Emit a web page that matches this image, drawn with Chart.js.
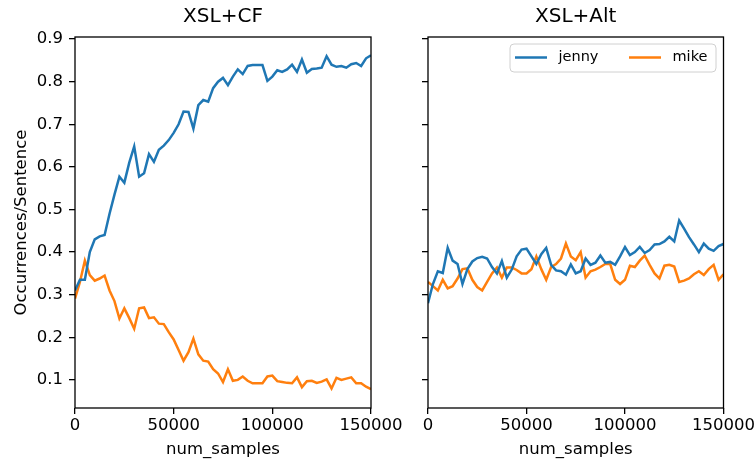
<!DOCTYPE html>
<html>
<head>
<meta charset="utf-8">
<script src="https://cdn.jsdelivr.net/npm/chart.js@4.4.1/dist/chart.umd.min.js"></script>
<style>
  html, body { margin: 0; padding: 0; background: #fff; }
  #wrap { position: relative; width: 754px; height: 461px; overflow: hidden; }
  canvas { position: absolute; top: 0; }
  #cfChart { left: 0; }
  #altChart { left: 395px; }
</style>
</head>
<body>
<div id="wrap">
  <canvas id="cfChart" width="415" height="461"></canvas>
  <canvas id="altChart" width="359" height="461"></canvas>
</div>
<script>
// Occurrences per sentence vs number of samples
const samples = [0, 2500, 5000, 7500, 10000, 12500, 15000, 17500, 20000, 22500,
  25000, 27500, 30000, 32500, 35000, 37500, 40000, 42500, 45000, 47500,
  50000, 52500, 55000, 57500, 60000, 62500, 65000, 67500, 70000, 72500,
  75000, 77500, 80000, 82500, 85000, 87500, 90000, 92500, 95000, 97500,
  100000, 102500, 105000, 107500, 110000, 112500, 115000, 117500, 120000, 122500,
  125000, 127500, 130000, 132500, 135000, 137500, 140000, 142500, 145000, 147500, 150000];

const cfJenny = [0.31, 0.335, 0.335, 0.40, 0.43, 0.437, 0.44, 0.49, 0.535, 0.577,
  0.563, 0.61, 0.648, 0.577, 0.585, 0.63, 0.612, 0.64, 0.65, 0.663,
  0.68, 0.70, 0.73, 0.729, 0.69, 0.745, 0.757, 0.753, 0.785, 0.80,
  0.809, 0.792, 0.812, 0.829, 0.818, 0.837, 0.839, 0.839, 0.839, 0.802,
  0.812, 0.827, 0.823, 0.829, 0.84, 0.823, 0.852, 0.821, 0.83, 0.831,
  0.833, 0.86, 0.84, 0.835, 0.837, 0.833, 0.841, 0.844, 0.837, 0.855, 0.862];

const cfMike = [0.291, 0.33, 0.38, 0.346, 0.333, 0.338, 0.345, 0.31, 0.285, 0.244,
  0.268, 0.245, 0.22, 0.268, 0.27, 0.245, 0.247, 0.232, 0.231, 0.212,
  0.195, 0.17, 0.145, 0.165, 0.197, 0.16, 0.145, 0.143, 0.125, 0.115,
  0.095, 0.125, 0.098, 0.10, 0.108, 0.098, 0.092, 0.092, 0.092, 0.108,
  0.11, 0.097, 0.095, 0.093, 0.092, 0.106, 0.083, 0.097, 0.098, 0.093,
  0.096, 0.101, 0.08, 0.105, 0.10, 0.103, 0.106, 0.092, 0.092, 0.084, 0.078];

const altJenny = [0.28, 0.325, 0.355, 0.351, 0.41, 0.38, 0.372, 0.325, 0.36, 0.378,
  0.386, 0.389, 0.385, 0.365, 0.35, 0.379, 0.34, 0.359, 0.39, 0.406,
  0.408, 0.39, 0.372, 0.395, 0.41, 0.37, 0.357, 0.355, 0.347, 0.371,
  0.35, 0.355, 0.385, 0.37, 0.375, 0.392, 0.375, 0.377, 0.37, 0.39,
  0.412, 0.393, 0.40, 0.412, 0.398, 0.405, 0.418, 0.419, 0.425, 0.436,
  0.425, 0.474, 0.455, 0.435, 0.418, 0.40, 0.42, 0.408, 0.403, 0.414, 0.419];

const altMike = [0.33, 0.32, 0.31, 0.335, 0.315, 0.32, 0.338, 0.36, 0.362, 0.335,
  0.318, 0.31, 0.33, 0.35, 0.364, 0.34, 0.364, 0.364, 0.358, 0.35,
  0.35, 0.36, 0.39, 0.36, 0.335, 0.365, 0.372, 0.385, 0.42, 0.39,
  0.381, 0.40, 0.34, 0.355, 0.359, 0.365, 0.372, 0.372, 0.335, 0.325,
  0.335, 0.368, 0.365, 0.38, 0.392, 0.37, 0.35, 0.338, 0.368, 0.37,
  0.366, 0.33, 0.333, 0.338, 0.348, 0.355, 0.346, 0.36, 0.37, 0.335, 0.348];

const seriesNames = ['jenny', 'mike'];
const panelTitles = ['XSL+CF', 'XSL+Alt'];
const xTicks = [0, 50000, 100000, 150000];
const yTicks = [0.1, 0.2, 0.3, 0.4, 0.5, 0.6, 0.7, 0.8, 0.9];
const yLabel = 'Occurrences/Sentence';
const xLabel = 'num_samples';

const BLUE = '#1f77b4';
const ORANGE = '#ff7f0e';

Chart.defaults.font.family = "'DejaVu Sans', sans-serif";
Chart.defaults.color = '#000';

// black box round the plot area, like matplotlib spines
const framePlugin = {
    id: 'frame',
    afterDatasetsDraw(chart) {
        const { ctx, chartArea: a } = chart;
        ctx.save();
        ctx.strokeStyle = '#000';
        ctx.lineWidth = 1.3;
        ctx.strokeRect(a.left, a.top, a.right - a.left, a.bottom - a.top);
        ctx.restore();
    }
};

// legend drawn inside the upper right corner
const insideLegend = {
    id: 'insideLegend',
    afterDraw(chart) {
        const { ctx, chartArea: a } = chart;
        const w = 206, h = 28, r = 4;
        const x = a.right - 7.5 - w;
        const y = a.top + 7;
        ctx.save();
        ctx.beginPath();
        ctx.moveTo(x + r, y);
        ctx.arcTo(x + w, y, x + w, y + h, r);
        ctx.arcTo(x + w, y + h, x, y + h, r);
        ctx.arcTo(x, y + h, x, y, r);
        ctx.arcTo(x, y, x + w, y, r);
        ctx.closePath();
        ctx.fillStyle = 'rgba(255,255,255,0.8)';
        ctx.fill();
        ctx.strokeStyle = '#d0d0d0';
        ctx.lineWidth = 1;
        ctx.stroke();

        ctx.font = "14.5px 'DejaVu Sans', sans-serif";
        ctx.textBaseline = 'middle';
        ctx.textAlign = 'left';
        chart.data.datasets.forEach((ds, i) => {
            const lx = x + 5 + i * 114;
            const ly = y + 13.5;
            ctx.beginPath();
            ctx.moveTo(lx, ly);
            ctx.lineTo(lx + 32, ly);
            ctx.strokeStyle = ds.borderColor;
            ctx.lineWidth = 2.5;
            ctx.stroke();
            ctx.fillStyle = '#000';
            ctx.fillText(ds.label, lx + 43.5, ly);
        });
        ctx.restore();
    }
};

function makeOptions(title, showYLabels, rightPad, yWidth) {
    return {
        responsive: false,
        animation: false,
        events: [],
        layout: { padding: { left: 0, top: 0, right: rightPad, bottom: 0 } },
        plugins: {
            legend: { display: false },
            tooltip: { enabled: false },
            title: {
                display: true,
                text: title,
                fullSize: false,
                font: { size: 20, weight: 'normal' },
                padding: { top: 5, bottom: 8 }
            }
        },
        scales: {
            x: {
                type: 'linear',
                min: 0,
                max: 150000,
                border: { display: false },
                grid: { drawOnChartArea: false, drawTicks: true, tickLength: 6, color: '#000', lineWidth: 1.3 },
                ticks: {
                    autoSkip: false,
                    maxRotation: 0,
                    padding: 2,
                    font: { size: 16.5 },
                    callback: (v) => String(v)
                },
                afterBuildTicks: (s) => { s.ticks = xTicks.map(v => ({ value: v })); },
                afterFit: (s) => { s.height = 53; s.paddingLeft = 0; s.paddingRight = 0; },
                title: { display: true, text: xLabel, font: { size: 16.5 }, padding: { top: 0, bottom: 1 } }
            },
            y: {
                min: 0.034,
                max: 0.905,
                border: { display: false },
                grid: { drawOnChartArea: false, drawTicks: true, tickLength: 6, color: '#000', lineWidth: 1.3 },
                ticks: {
                    padding: 6,
                    font: { size: 16.5 },
                    callback: (v) => showYLabels ? v.toFixed(1) : ''
                },
                afterBuildTicks: (s) => { s.ticks = yTicks.map(v => ({ value: v })); },
                afterFit: (s) => { s.width = yWidth; s.paddingTop = 0; s.paddingBottom = 0; },
                title: { display: showYLabels, text: yLabel, font: { size: 16.5 }, padding: { top: 12, bottom: 0 } }
            }
        }
    };
}

function makeDatasets(jenny, mike) {
    return [
        { label: seriesNames[0], data: jenny, borderColor: BLUE, backgroundColor: BLUE, borderWidth: 2.5, pointRadius: 0, tension: 0 },
        { label: seriesNames[1], data: mike, borderColor: ORANGE, backgroundColor: ORANGE, borderWidth: 2.5, pointRadius: 0, tension: 0 }
    ];
}

new Chart(document.getElementById('cfChart'), {
    type: 'line',
    data: { labels: samples, datasets: makeDatasets(cfJenny, cfMike) },
    options: makeOptions(panelTitles[0], true, 44, 75),
    plugins: [framePlugin]
});

new Chart(document.getElementById('altChart'), {
    type: 'line',
    data: { labels: samples, datasets: makeDatasets(altJenny, altMike) },
    options: makeOptions(panelTitles[1], false, 30.5, 33),
    plugins: [framePlugin, insideLegend]
});
</script>
</body>
</html>
